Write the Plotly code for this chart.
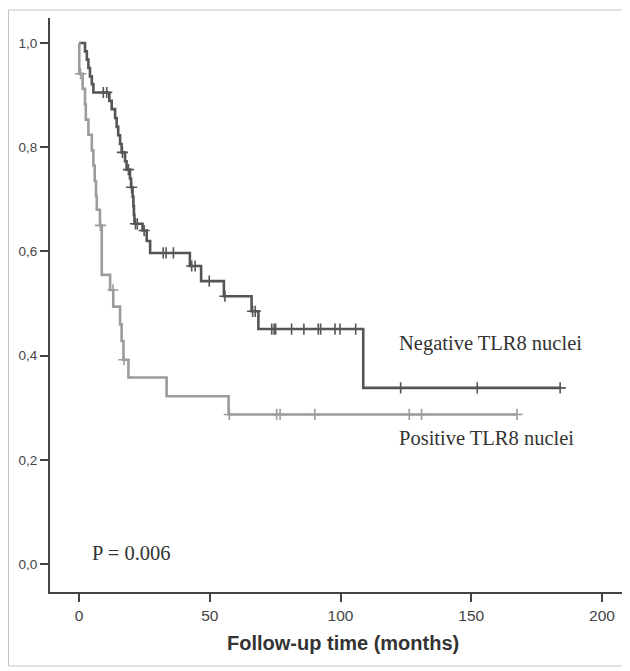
import plotly.graph_objects as go

# ---------------- data ----------------
# Negative TLR8 nuclei: event times (months) and survival after each event
neg_event_times = [2.3, 3.0, 3.6, 4.2, 4.9, 5.5, 11.6, 12.5, 13.8, 14.4, 15.0, 15.7, 16.3,
                   17.6, 18.2, 19.5, 19.9, 20.5, 20.8, 21.0, 21.2, 24.3, 25.9, 27.2,
                   42.4, 46.7, 55.4, 66.0, 68.6, 108.7]
neg_surv = [0.984, 0.968, 0.952, 0.936, 0.921, 0.905, 0.889, 0.873, 0.856, 0.839, 0.823, 0.806, 0.790,
            0.773, 0.757, 0.740, 0.723, 0.705, 0.687, 0.670, 0.653, 0.640, 0.620, 0.597,
            0.572, 0.543, 0.514, 0.485, 0.451, 0.338]
neg_censor_times = [9.3, 10.6, 16.6, 18.9, 20.1, 21.6, 22.3, 24.9, 32.2, 33.3, 36.1,
                    43.1, 44.4, 49.8, 55.8, 66.4, 67.4, 73.7, 74.6, 75.2, 81.3, 86.0,
                    91.5, 92.4, 97.9, 99.8, 105.8, 123.0, 152.3, 184.0]

# Positive TLR8 nuclei
pos_event_times = [0.1, 1.4, 2.3, 2.6, 3.6, 4.9, 5.5, 6.0, 6.5, 6.8, 8.0, 8.7, 11.9,
                   13.1, 15.7, 16.3, 17.0, 18.9, 33.5, 57.2]
pos_surv = [0.941, 0.912, 0.882, 0.853, 0.824, 0.794, 0.765, 0.735, 0.706, 0.680, 0.650, 0.555, 0.526,
            0.494, 0.460, 0.428, 0.392, 0.358, 0.322, 0.287]
pos_censor_times = [0.6, 8.2, 13.0, 17.2, 57.5, 75.6, 76.9, 90.2, 126.3, 131.0, 167.5]

x_tick_vals = [0, 50, 100, 150, 200]
y_tick_vals = [0.0, 0.2, 0.4, 0.6, 0.8, 1.0]
y_tick_text = ["0,0", "0,2", "0,4", "0,6", "0,8", "1,0"]

labels = ["Negative TLR8 nuclei", "Positive TLR8 nuclei"]
p_text = "P = 0.006"
x_title = "Follow-up time (months)"


def km_path(times, surv, censors):
    end = max([times[-1]] + censors)
    xs = [0.0] + list(times) + [end]
    ys = [1.0] + list(surv) + [surv[-1]]
    return xs, ys


def km_value(times, surv, t):
    val = 1.0
    for ti, si in zip(times, surv):
        if ti <= t:
            val = si
    return val


fig = go.Figure()

series = [
    (neg_event_times, neg_surv, neg_censor_times, "#555555"),
    (pos_event_times, pos_surv, pos_censor_times, "#9c9c9c"),
]
for (times, surv, cens, col), name in zip(series, labels):
    xs, ys = km_path(times, surv, cens)
    fig.add_trace(go.Scatter(x=xs, y=ys, mode="lines", line=dict(color=col, width=2.6, shape="hv"),
                             name=name, showlegend=False, hoverinfo="skip"))
    cy = [km_value(times, surv, t) for t in cens]
    fig.add_trace(go.Scatter(x=cens, y=cy, mode="markers",
                             marker=dict(symbol="cross-thin", size=8, line=dict(color=col, width=1.6)),
                             showlegend=False, hoverinfo="skip"))

# page has an 8px body margin; work in page pixels and subtract it
OFF = 8
W, H = 630 - OFF, 671 - OFF
plot_left, plot_right, plot_top, plot_bottom = 50, 627, 18, 592   # page px
L = plot_left - OFF
R = W - (plot_right - OFF)
T = plot_top - OFF
B = H - (plot_bottom - OFF)
pw = plot_right - plot_left
ph = plot_bottom - plot_top

x0_px, x_scale = 79.0, 2.615      # page px of x=0, px per month
y0_px, y_scale = 564.0, 521.0     # page px of y=0, px per unit
x_range = [(plot_left - x0_px) / x_scale, (plot_right - x0_px) / x_scale]
y_range = [(y0_px - plot_bottom) / y_scale, (y0_px - plot_top) / y_scale]


def px_x(px):
    return (px - plot_left) / pw


def px_y(py):
    return (plot_bottom - py) / ph


fig.update_layout(
    width=W, height=H,
    margin=dict(l=L, r=R, t=T, b=B),
    paper_bgcolor="white", plot_bgcolor="white",
    xaxis=dict(range=x_range, showgrid=False, zeroline=False, showline=True,
               linecolor="#444444", linewidth=2, ticks="outside", ticklen=8, tickwidth=2,
               tickcolor="#444444", tickvals=x_tick_vals,
               tickfont=dict(family="Liberation Sans", size=15.5, color="#444444")),
    yaxis=dict(range=y_range, showgrid=False, zeroline=False, showline=True,
               linecolor="#444444", linewidth=2, ticks="outside", ticklen=8, tickwidth=2,
               tickcolor="#444444", tickvals=y_tick_vals, ticktext=y_tick_text,
               tickfont=dict(family="Liberation Sans", size=13.5, color="#444444")),
)

fig.add_annotation(x=121.6, y=0.424, xref="x", yref="y", text=labels[0], showarrow=False,
                   xanchor="left", yanchor="middle",
                   font=dict(family="Liberation Serif", size=20.5, color="#333333"))
fig.add_annotation(x=121.6, y=0.242, xref="x", yref="y", text=labels[1], showarrow=False,
                   xanchor="left", yanchor="middle",
                   font=dict(family="Liberation Serif", size=20.5, color="#333333"))
fig.add_annotation(x=4.2, y=0.021, xref="x", yref="y", text=p_text, showarrow=False,
                   xanchor="left", yanchor="middle",
                   font=dict(family="Liberation Serif", size=20.5, color="#333333"))
fig.add_annotation(x=px_x(343), y=px_y(643), xref="paper", yref="paper",
                   text="<b>" + x_title + "</b>", showarrow=False,
                   xanchor="center", yanchor="middle",
                   font=dict(family="Liberation Sans", size=20, color="#333333"))

# outer light frame (page px 8..627, 10..666)
fig.add_shape(type="rect", xref="paper", yref="paper",
              x0=px_x(8.5), x1=px_x(626.5), y0=px_y(666), y1=px_y(10),
              line=dict(color="#c4c4c4", width=1), fillcolor="rgba(0,0,0,0)", layer="below")

fig.write_html("out.html")
